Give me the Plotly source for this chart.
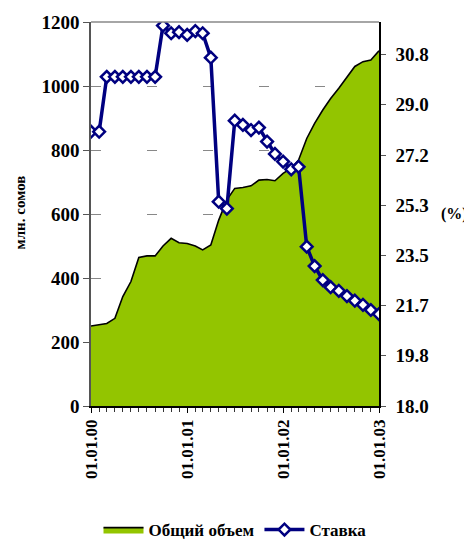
import plotly.graph_objects as go
import pandas as pd

dates = pd.date_range("2000-01-01", "2003-01-01", freq="MS")

volume = [250, 253, 258, 274, 342, 389, 464, 469, 469, 500, 524, 510, 508, 500, 488, 503,
          581, 644, 680, 683, 688, 706, 708, 704, 727, 743, 769, 836, 883, 925, 961, 993,
          1029, 1061, 1076, 1081, 1110]

rate = [28.0, 28.0, 30.0, 30.0, 30.0, 30.0, 30.0, 30.0, 30.0, 31.87, 31.59, 31.63, 31.53,
        31.67, 31.59, 30.70, 25.45, 25.2, 28.40, 28.25, 28.06, 28.15, 27.64, 27.19, 26.91,
        26.63, 26.72, 23.81, 23.10, 22.59, 22.33, 22.20, 22.01, 21.84, 21.69, 21.50, 21.35]

left_ticks = [0, 200, 400, 600, 800, 1000, 1200]
right_tickvals = [18.0, 19.83, 21.66, 23.49, 25.32, 27.15, 28.98, 30.81]
right_ticktext = ["18.0", "19.8", "21.7", "23.5", "25.3", "27.2", "29.0", "30.8"]
x_tickvals = ["2000-01-01", "2001-01-01", "2002-01-01", "2003-01-01"]
x_ticktext = ["01.01.00", "01.01.01", "01.01.02", "01.01.03"]

FONT = "'Liberation Serif', 'DejaVu Serif', serif"

fig = go.Figure()
fig.add_trace(go.Scatter(
    x=dates, y=volume, name="<b>Общий объем</b>", mode="lines",
    fill="tozeroy", fillcolor="#93C500",
    line=dict(color="black", width=1.6), yaxis="y"))
fig.add_trace(go.Scatter(
    x=dates, y=rate, name="<b>Ставка</b>", mode="lines+markers",
    line=dict(color="#000080", width=3.5),
    marker=dict(symbol="diamond", size=9, color="white",
                line=dict(color="#000080", width=2.5)),
    yaxis="y2"))

fig.update_layout(
    width=472, height=549,
    margin=dict(l=83, r=101, t=14, b=151, autoexpand=False),
    paper_bgcolor="white", plot_bgcolor="white",
    font=dict(family=FONT, color="black", size=16),
    showlegend=True,
    legend=dict(orientation="h", x=0.5, xanchor="center", y=-0.323, yanchor="middle",
                font=dict(family=FONT, size=17), itemwidth=40,
                traceorder="normal"),
    xaxis=dict(
        range=["2000-01-01", "2003-01-01"], type="date", automargin=False,
        tickvals=x_tickvals, ticktext=["<b>%s</b>" % t for t in x_ticktext], tickangle=-90,
        tickfont=dict(family=FONT, size=17),
        ticks="outside", ticklen=5, tickcolor="black",
        minor=dict(dtick="M1", ticks="outside", ticklen=4, tickcolor="#333", showgrid=False),
        showline=True, linecolor="black", linewidth=1.5, mirror=False,
        showgrid=False, zeroline=False),
    yaxis=dict(
        range=[0, 1200], tickvals=left_ticks, automargin=False,
        ticktext=["<b>%d</b>" % v for v in left_ticks],
        tickfont=dict(family=FONT, size=19),
        ticks="outside", ticklen=6, tickcolor="#555",
        showline=True, linecolor="#555", linewidth=1.5,
        showgrid=True, gridcolor="#888", gridwidth=1.2, griddash="10px,46px",
        zeroline=False),
    yaxis2=dict(
        range=[18, 32], overlaying="y", side="right", automargin=False,
        tickvals=right_tickvals, ticktext=["<b>%s</b>" % t for t in right_ticktext],
        tickfont=dict(family=FONT, size=19), ticklabelstandoff=6,
        ticks="outside", ticklen=5, tickcolor="#555",
        showline=True, linecolor="black", linewidth=1.5,
        showgrid=False, zeroline=False),
    shapes=[dict(type="line", xref="paper", yref="paper", x0=0, x1=1, y0=1, y1=1,
                 line=dict(color="#888", width=1.5))],
    annotations=[
        dict(text="<b>(%)</b>", xref="paper", yref="paper", x=1.262, y=0.5,
             xanchor="center", yanchor="middle", showarrow=False,
             font=dict(family=FONT, size=16)),
        dict(text="<b>млн. сомов</b>", xref="paper", yref="paper", x=-0.245, y=0.505,
             xanchor="center", yanchor="middle", showarrow=False, textangle=-90,
             font=dict(family=FONT, size=15)),
    ],
)

fig.write_html("out.html")
